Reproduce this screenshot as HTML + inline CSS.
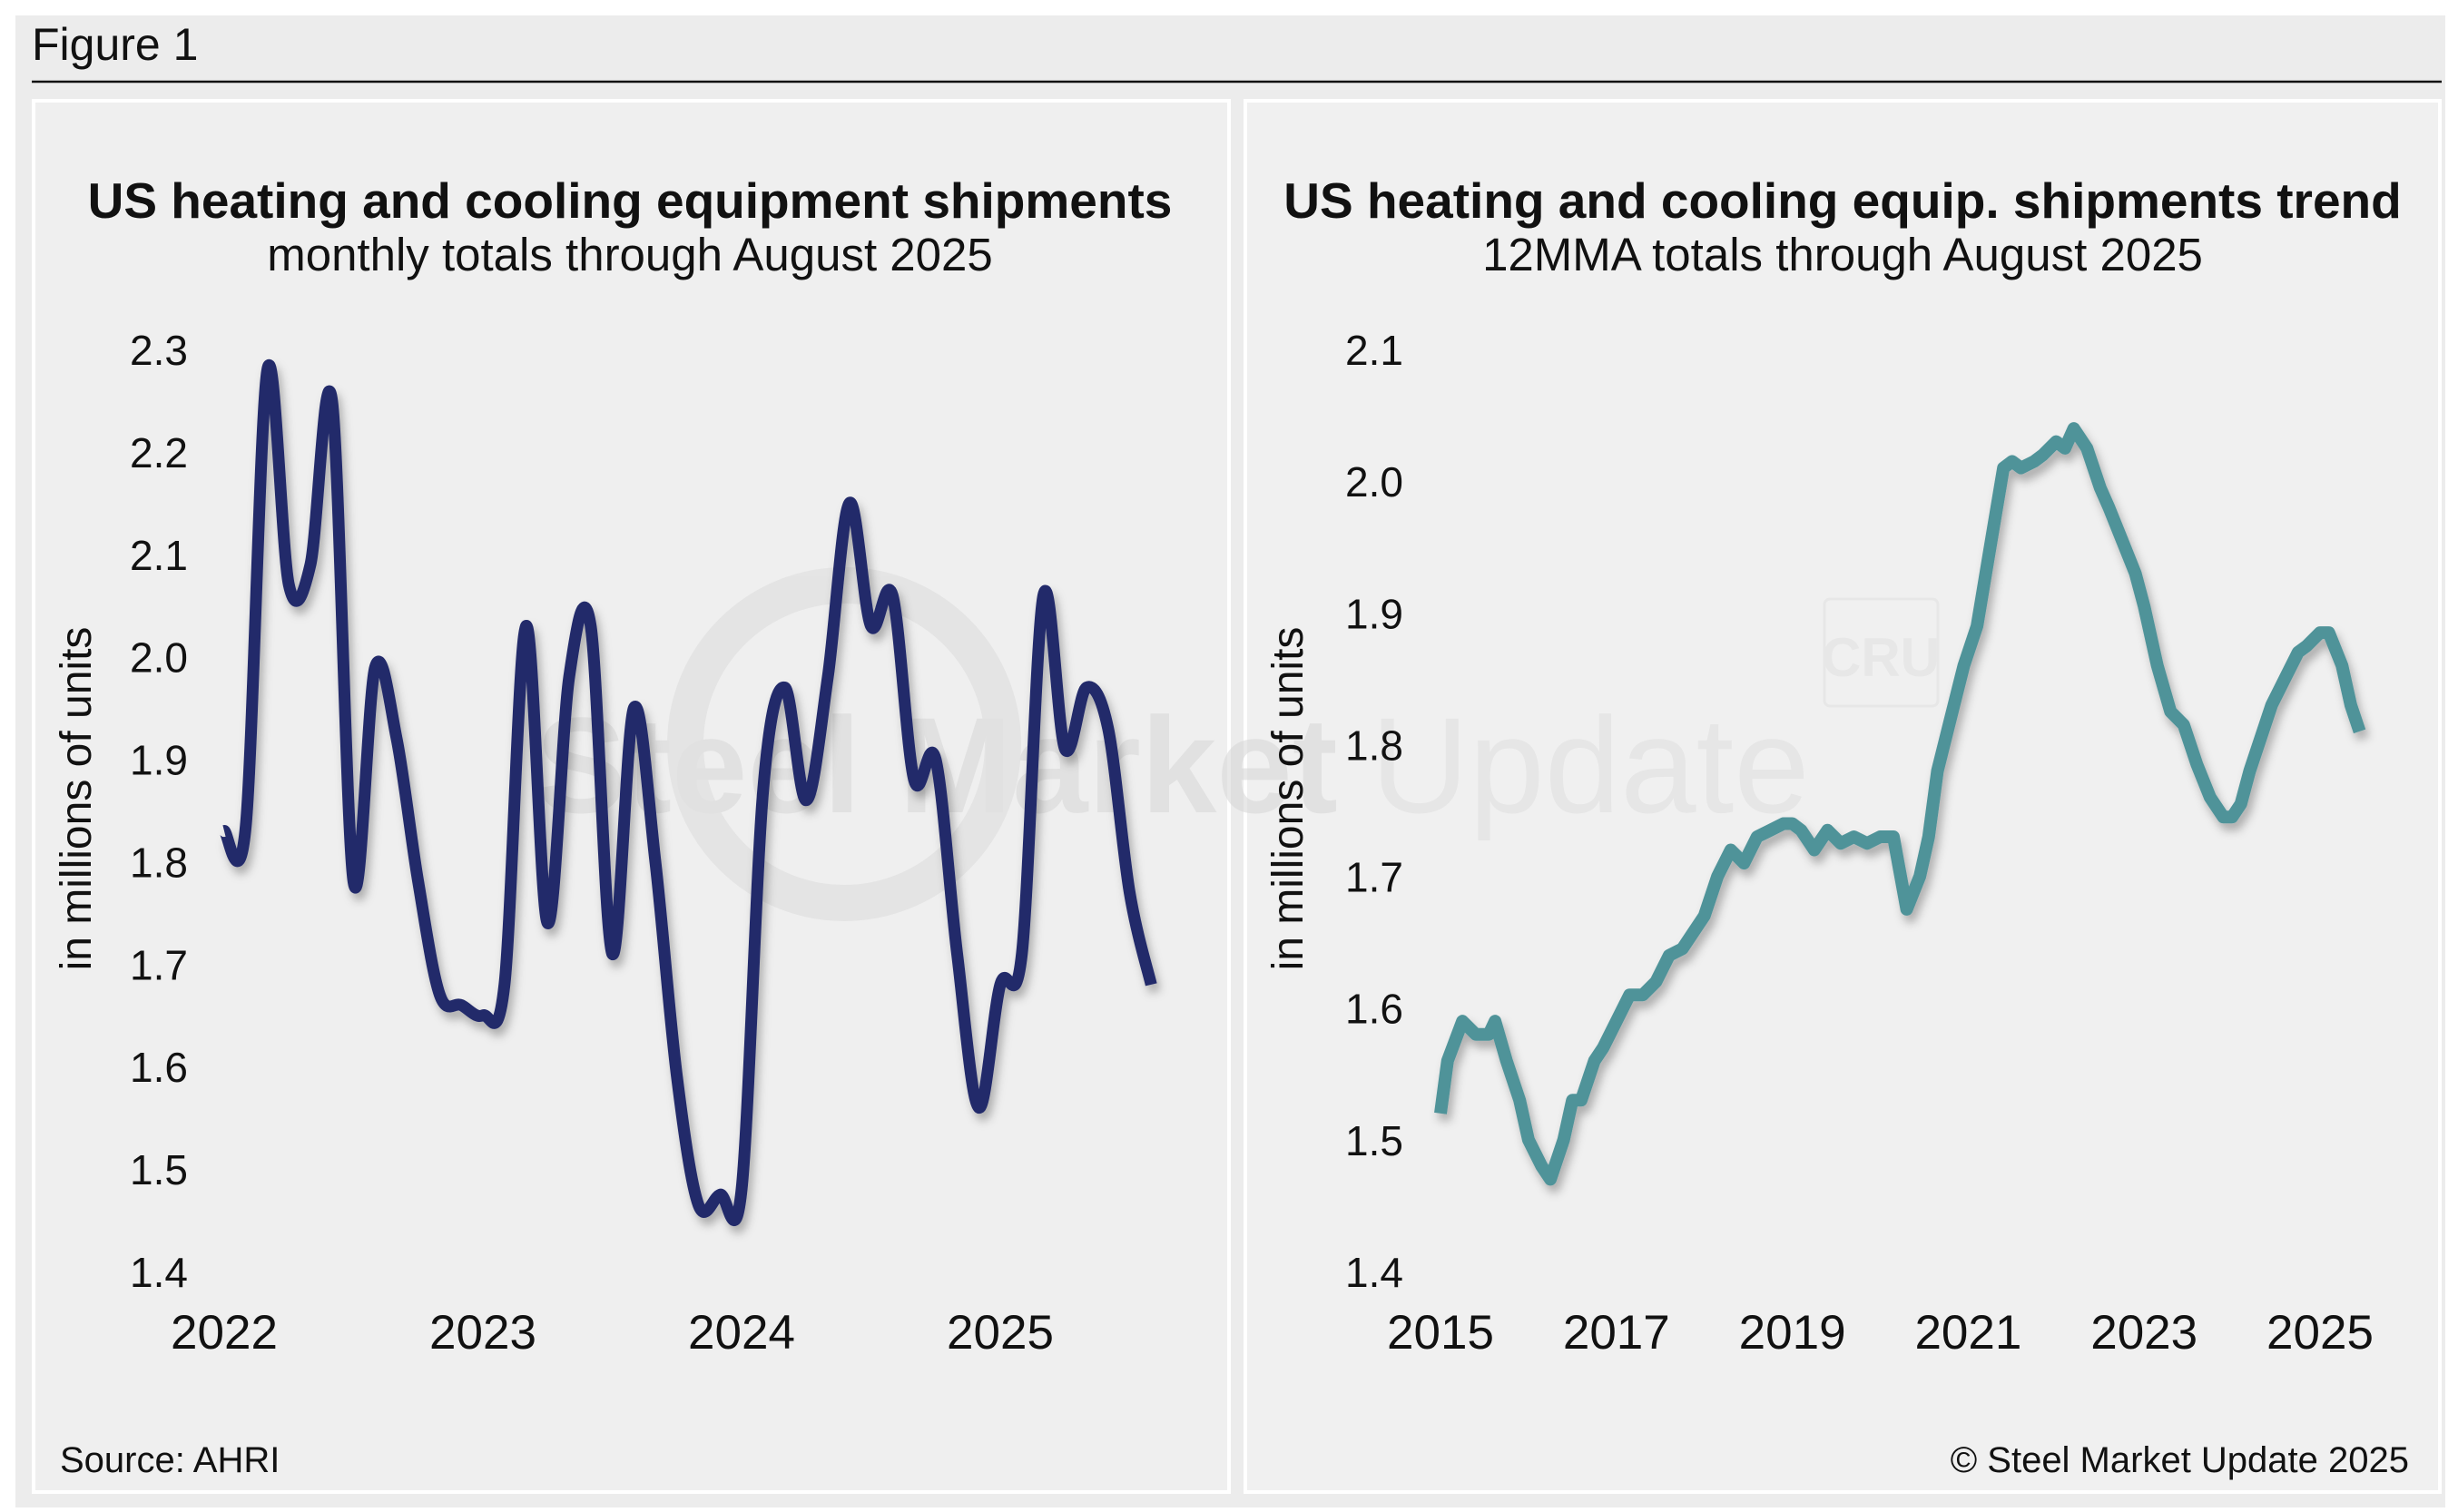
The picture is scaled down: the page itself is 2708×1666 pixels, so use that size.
<!DOCTYPE html>
<html><head><meta charset="utf-8">
<style>
body{margin:0;background:#fff;}
#root{position:relative;width:2708px;height:1666px;background:#fff;overflow:hidden;font-family:"Liberation Sans",sans-serif;}
svg{position:absolute;left:0;top:0;}
</style></head>
<body>
<div id="root">
<svg id="svg" width="2708" height="1666">
<defs>
<filter id="sh" x="-5%" y="-5%" width="110%" height="115%"><feDropShadow dx="4" dy="8" stdDeviation="5" flood-color="#000" flood-opacity="0.28"/></filter>
</defs>
<rect x="17" y="17" width="2677" height="1644" fill="#ececec"/>
<text x="35" y="66" font-size="50" fill="#111">Figure 1</text>
<line x1="35" y1="90" x2="2690" y2="90" stroke="#111" stroke-width="2.5"/>
<rect x="37" y="111" width="1317" height="1533" fill="#efefef" stroke="#fff" stroke-width="4"/>
<rect x="1372" y="111" width="1316" height="1533" fill="#f0f0f0" stroke="#fff" stroke-width="4"/>
<g opacity="0.55">
<circle cx="930" cy="820" r="175" fill="none" stroke="#dcdcdc" stroke-width="40"/>
<text x="590" y="895" font-size="150" font-weight="bold" fill="#d6d6d6">Steel Market</text>
<text x="1510" y="895" font-size="150" fill="#dedede">Update</text>
<rect x="2010" y="660" width="125" height="118" rx="6" fill="none" stroke="#e0e0e0" stroke-width="3"/>
<text x="2072" y="745" font-size="60" font-weight="bold" fill="#e0e0e0" text-anchor="middle">CRU</text>
</g>
<text x="694" y="240" font-size="55" font-weight="bold" text-anchor="middle" fill="#111">US heating and cooling equipment shipments</text>
<text x="694" y="298" font-size="51" text-anchor="middle" fill="#111">monthly totals through August 2025</text>
<text x="2030" y="240" font-size="55" font-weight="bold" text-anchor="middle" fill="#111">US heating and cooling equip. shipments trend</text>
<text x="2030" y="298" font-size="51" text-anchor="middle" fill="#111">12MMA totals through August 2025</text>
<text transform="translate(100,880) rotate(-90)" font-size="48" text-anchor="middle" fill="#111">in millions of units</text>
<text transform="translate(1435,880) rotate(-90)" font-size="48" text-anchor="middle" fill="#111">in millions of units</text>
<text x="66" y="1622" font-size="40" fill="#111">Source: AHRI</text>
<text x="2654" y="1622" font-size="40" text-anchor="end" fill="#111">© Steel Market Update 2025</text>
<g id="left"></g>
<g id="right"></g>
</svg>
</div>
<script>
// Left chart data (monthly, Jan 2022 - Aug 2025)
const leftYears = ["2022","2023","2024","2025"];
const leftTicks = [1.4,1.5,1.6,1.7,1.8,1.9,2.0,2.1,2.2,2.3];
const leftValues = [1.83,1.835,2.28,2.07,2.09,2.25,1.78,1.99,1.92,1.78,1.67,1.66,
 1.65,1.68,2.03,1.74,1.98,2.03,1.71,1.95,1.80,1.59,1.465,1.475,
 1.48,1.87,1.97,1.86,1.98,2.15,2.03,2.06,1.88,1.90,1.71,1.56,
 1.68,1.71,2.06,1.91,1.97,1.93,1.77,1.68];
// Right chart data (12MMA, decimal year, value)
const rightYears = ["2015","2017","2019","2021","2023","2025"];
const rightTicks = [1.4,1.5,1.6,1.7,1.8,1.9,2.0,2.1];
const rightDates = [2015.0,2015.08,2015.25,2015.4,2015.55,2015.62,2015.75,2015.9,2016.0,2016.15,2016.25,2016.4,2016.5,2016.6,2016.75,2016.85,2017.0,2017.15,2017.3,2017.45,2017.6,2017.75,2017.9,2018.0,2018.15,2018.3,2018.45,2018.6,2018.75,2018.9,2019.0,2019.1,2019.25,2019.4,2019.55,2019.7,2019.85,2020.0,2020.15,2020.3,2020.45,2020.55,2020.65,2020.8,2020.95,2021.1,2021.25,2021.4,2021.5,2021.6,2021.75,2021.85,2022.0,2022.1,2022.2,2022.35,2022.5,2022.6,2022.75,2022.9,2023.0,2023.15,2023.3,2023.45,2023.6,2023.75,2023.9,2024.0,2024.1,2024.2,2024.3,2024.45,2024.6,2024.75,2024.85,2025.0,2025.1,2025.25,2025.35,2025.45,2025.58];
const rightValues = [1.52,1.56,1.59,1.58,1.58,1.59,1.56,1.53,1.50,1.48,1.47,1.50,1.53,1.53,1.56,1.57,1.59,1.61,1.61,1.62,1.64,1.645,1.66,1.67,1.70,1.72,1.71,1.73,1.735,1.74,1.74,1.735,1.72,1.735,1.725,1.73,1.725,1.73,1.73,1.675,1.70,1.73,1.78,1.82,1.86,1.89,1.95,2.01,2.015,2.01,2.015,2.02,2.03,2.025,2.04,2.025,1.995,1.98,1.955,1.93,1.905,1.86,1.825,1.815,1.785,1.76,1.745,1.745,1.755,1.78,1.80,1.83,1.85,1.87,1.875,1.885,1.885,1.86,1.83,1.81];

const NS="http://www.w3.org/2000/svg";
function mk(tag,attrs,parent){const e=document.createElementNS(NS,tag);for(const k in attrs)e.setAttribute(k,attrs[k]);parent.appendChild(e);return e;}

function smooth(pts){
  let d="M"+pts[0][0].toFixed(1)+","+pts[0][1].toFixed(1);
  for(let i=0;i<pts.length-1;i++){
    const p0=pts[Math.max(0,i-1)],p1=pts[i],p2=pts[i+1],p3=pts[Math.min(pts.length-1,i+2)];
    const c1=[p1[0]+(p2[0]-p0[0])/6,p1[1]+(p2[1]-p0[1])/6];
    const c2=[p2[0]-(p3[0]-p1[0])/6,p2[1]-(p3[1]-p1[1])/6];
    d+=" C"+c1[0].toFixed(1)+","+c1[1].toFixed(1)+" "+c2[0].toFixed(1)+","+c2[1].toFixed(1)+" "+p2[0].toFixed(1)+","+p2[1].toFixed(1);
  }
  return d;
}

// Left axes
const L=document.getElementById('left');
const lx=m=>247+m*(285/12);
const ly=v=>1401-(v-1.4)*(1016/0.9);
leftTicks.forEach(t=>{
  const e=mk('text',{x:207,y:ly(t)+17,'font-size':46,'text-anchor':'end',fill:'#111'},L);
  
  
  e.textContent=t.toFixed(1);
});
leftYears.forEach((y,i)=>{
  const e=mk('text',{x:lx(i*12),y:1486,'font-size':53,'text-anchor':'middle',fill:'#111'},L);
  
  
  e.textContent=y;
});
const lp=mk('path',{d:smooth(leftValues.map((v,i)=>[lx(i),ly(v)])),fill:'none',stroke:'#232a6b','stroke-width':13,'stroke-linejoin':'round',filter:'url(#sh)'},L);



// Right axes
const R=document.getElementById('right');
const rx=y=>1587+(y-2015)*(969/10);
const ry=v=>1401-(v-1.4)*(1016/0.7);
rightTicks.forEach(t=>{
  const e=mk('text',{x:1546,y:ry(t)+17,'font-size':46,'text-anchor':'end',fill:'#111'},R);
  
  
  e.textContent=t.toFixed(1);
});
rightYears.forEach(y=>{
  const e=mk('text',{x:rx(+y),y:1486,'font-size':53,'text-anchor':'middle',fill:'#111'},R);
  
  
  e.textContent=y;
});
const rp=mk('path',{d:"M"+rightDates.map((d,i)=>rx(d).toFixed(1)+","+ry(rightValues[i]).toFixed(1)).join(" L"),fill:'none',stroke:'#4f9399','stroke-width':14,'stroke-linejoin':'round',filter:'url(#sh)'},R);


</script>
</body></html>
